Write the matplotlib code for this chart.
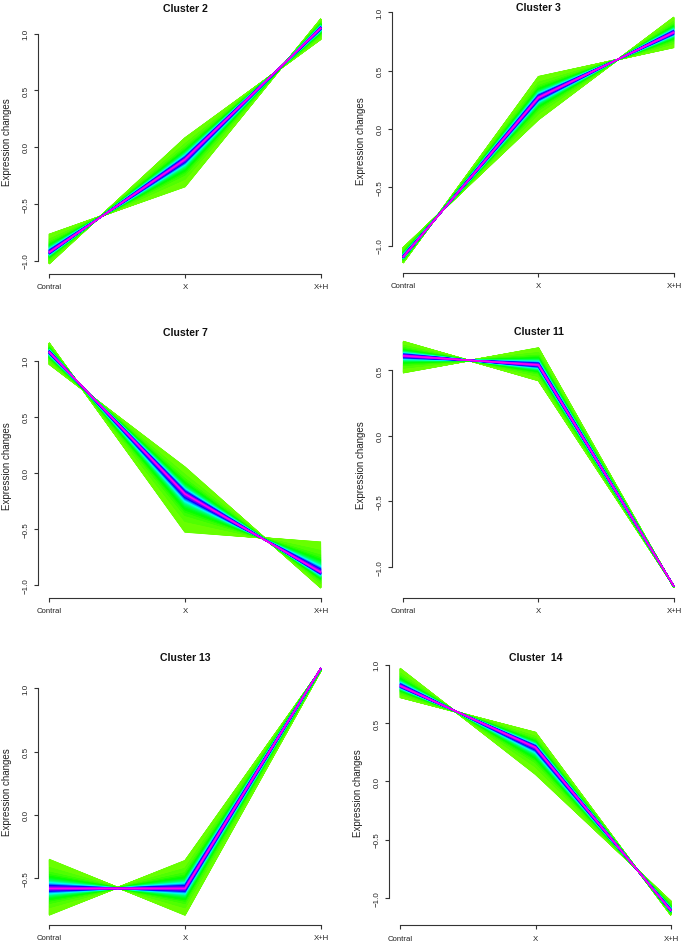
import numpy as np
import matplotlib
matplotlib.use("Agg")
import matplotlib.pyplot as plt
from matplotlib.collections import LineCollection

plt.rcParams["font.family"] = ["Liberation Sans", "DejaVu Sans"]

# ---------------- data ----------------
conditions = ["Contral", "X", "X+H"]
titles = ["Cluster 2", "Cluster 3", "Cluster 7", "Cluster 11", "Cluster 13", "Cluster  14"]

# highest-membership (centroid) profile and the two outermost member profiles
cluster2_center = [-0.93, -0.11, 1.05]
cluster2_edge_a = [-0.77, -0.35, 1.13]
cluster2_edge_b = [-1.03, 0.08, 0.95]

cluster3_center = [-1.10, 0.27, 0.83]
cluster3_edge_a = [-1.15, 0.45, 0.70]
cluster3_edge_b = [-1.02, 0.08, 0.96]

cluster7_center = [1.08, -0.19, -0.89]
cluster7_edge_a = [0.97, 0.05, -1.03]
cluster7_edge_b = [1.16, -0.53, -0.62]

cluster11_center = [0.61, 0.54, -1.15]
cluster11_edge_a = [0.72, 0.42, -1.15]
cluster11_edge_b = [0.48, 0.67, -1.16]

cluster13_center = [-0.58, -0.58, 1.16]
cluster13_edge_a = [-0.35, -0.79, 1.14]
cluster13_edge_b = [-0.79, -0.36, 1.15]

cluster14_center = [0.82, 0.29, -1.11]
cluster14_edge_a = [0.97, 0.06, -1.03]
cluster14_edge_b = [0.72, 0.42, -1.15]

clusters = [
    (cluster2_center, cluster2_edge_a, cluster2_edge_b),
    (cluster3_center, cluster3_edge_a, cluster3_edge_b),
    (cluster7_center, cluster7_edge_a, cluster7_edge_b),
    (cluster11_center, cluster11_edge_a, cluster11_edge_b),
    (cluster13_center, cluster13_edge_a, cluster13_edge_b),
    (cluster14_center, cluster14_edge_a, cluster14_edge_b),
]

# ---------------- style ----------------
palette = ["#FF8F00", "#FFA700", "#FFBF00", "#FFD700", "#FFEF00", "#F7FF00", "#DFFF00",
           "#C7FF00", "#AFFF00", "#97FF00", "#80FF00", "#68FF00", "#50FF00", "#38FF00",
           "#20FF00", "#08FF00", "#00FF10", "#00FF28", "#00FF40", "#00FF58", "#00FF70",
           "#00FF87", "#00FF9F", "#00FFB7", "#00FFCF", "#00FFE7", "#00FFFF", "#00E7FF",
           "#00CFFF", "#00B7FF", "#009FFF", "#0087FF", "#0070FF", "#0058FF", "#0040FF",
           "#0028FF", "#0010FF", "#0800FF", "#2000FF", "#3800FF", "#5000FF", "#6800FF",
           "#8000FF", "#9700FF", "#AF00FF", "#C700FF", "#DF00FF", "#F700FF", "#FF00EF",
           "#FF00D7", "#FF00BF", "#FF00A7", "#FF008F", "#FF0078", "#FF0060", "#FF0048",
           "#FF0030", "#FF0018"]


def mem_color(m):
    idx = int(np.clip(np.floor(m * (len(palette) - 1)), 0, len(palette) - 1))
    return palette[idx]


def membership(s, m_min=0.18, m_max=0.76, s0=0.17):
    return m_min + (m_max - m_min) / (1.0 + (s / s0) ** 2)


W, H = 685, 945
fig = plt.figure(figsize=(W / 100, H / 100), dpi=100)

# panel layout in pixels: x of first/last condition, y pixel of value 0, pixels per unit, title y
layout = [
    (49, 321, 148.0, 113.5, 9.5),
    (403, 674, 130.0, 116.5, 8.0),
    (49, 321, 473.7, 112.0, 333.0),
    (403, 674, 436.7, 131.0, 332.0),
    (49, 321, 816.0, 126.7, 658.0),
    (400, 671, 782.3, 116.5, 658.0),
]

x = np.arange(len(conditions))
N = 160
axis_col = "#333333"

for (center, ea, eb), title, (xc, xh, y0, upx, ty) in zip(clusters, titles, layout):
    center = np.asarray(center)
    ea = np.asarray(ea)
    eb = np.asarray(eb)
    allv = np.concatenate([center, ea, eb])
    lo, hi = allv.min(), allv.max()
    r = hi - lo
    ylim = (lo - 0.04 * r, hi + 0.04 * r)
    u = (xh - xc) / 2.0
    left_px = xc - 0.08 * u
    right_px = xh + 0.08 * u
    bot_px = y0 - ylim[0] * upx
    top_px = y0 - ylim[1] * upx
    ax = fig.add_axes([left_px / W, 1 - bot_px / H, (right_px - left_px) / W,
                       (bot_px - top_px) / H])
    ax.set_xlim(-0.08, 2.08)
    ax.set_ylim(*ylim)

    segs, cols = [], []
    for s in np.linspace(1.0, 0.0, N):
        col = mem_color(membership(s))
        for e in (ea, eb):
            y = center + s * (e - center)
            segs.append(np.column_stack([x, y]))
            cols.append(col)
    lc = LineCollection(segs, colors=cols, linewidths=0.9, capstyle="butt",
                        joinstyle="round")
    ax.add_collection(lc)
    ax.plot(x, center, color="#FF00EF", lw=1.1, solid_capstyle="butt")

    for sp in ("top", "right"):
        ax.spines[sp].set_visible(False)
    ticks = [t for t in np.arange(-1.0, 1.01, 0.5) if ylim[0] <= t <= ylim[1]]
    ax.set_yticks(ticks)
    ax.set_yticklabels([f"{t:.1f}".replace("-", "\u2212") for t in ticks],
                       rotation=90, va="center", fontsize=5.8, color="#222222")
    ax.spines["left"].set_bounds(ticks[0], ticks[-1])
    ax.set_xticks(x)
    ax.set_xticklabels(conditions, fontsize=5.6, color="#222222")
    ax.spines["bottom"].set_bounds(0, 2)
    for sp in ("left", "bottom"):
        ax.spines[sp].set_color(axis_col)
        ax.spines[sp].set_linewidth(0.8)
    ax.tick_params(axis="both", direction="out", length=3, width=0.8, color=axis_col)
    ax.tick_params(axis="y", pad=3.3)
    ax.tick_params(axis="x", pad=3.8)
    ax.patch.set_alpha(0)

    axw = right_px - left_px
    ax.text(-31.0 / axw, 0.5, "Expression changes",
            rotation=90, ha="center", va="center", fontsize=7, color="#222222",
            transform=ax.transAxes)
    fig.text((xc + xh) / 2 / W, 1 - ty / H, title, ha="center", va="center",
             fontsize=7.6, fontweight="bold", color="#111111")

fig.savefig("out.png", dpi=100)
